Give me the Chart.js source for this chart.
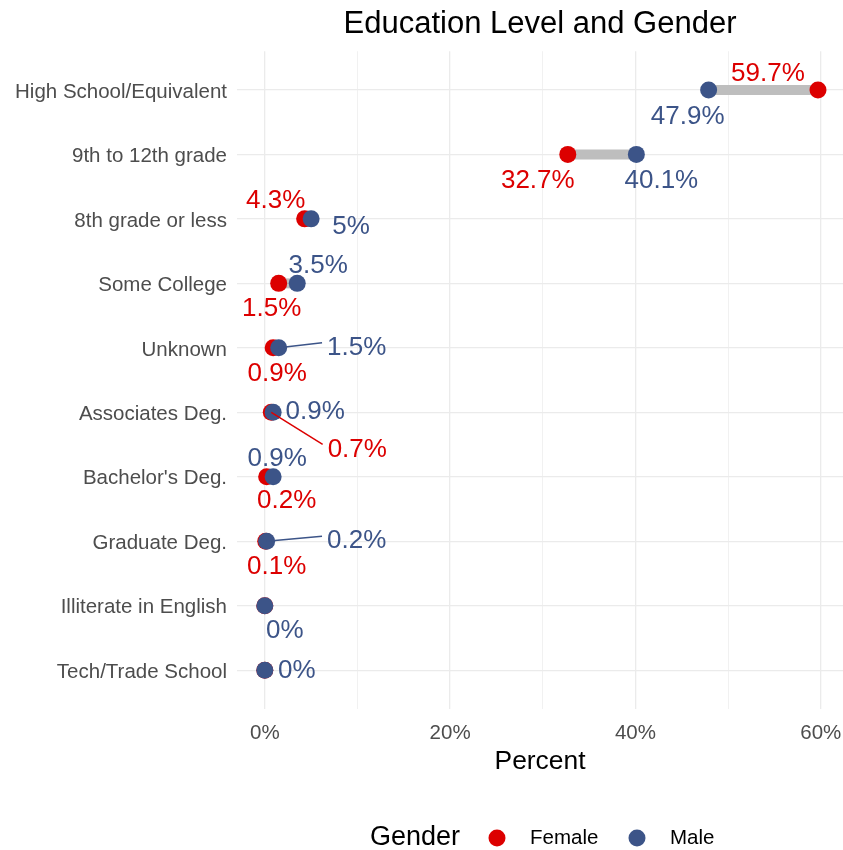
<!DOCTYPE html>
<html>
<head>
<meta charset="utf-8">
<script src="https://cdn.jsdelivr.net/npm/chart.js@4"></script>
<style>
  body { margin: 0; background: #fff; }
  #wrap { width: 843px; height: 850px; }
</style>
</head>
<body>
<div id="wrap"><canvas id="edu" width="843" height="850"></canvas></div>
<script>
// data
const categories = [
  "High School/Equivalent", "9th to 12th grade", "8th grade or less", "Some College",
  "Unknown", "Associates Deg.", "Bachelor's Deg.", "Graduate Deg.",
  "Illiterate in English", "Tech/Trade School"
];
const female = [59.7, 32.7, 4.3, 1.5, 0.9, 0.7, 0.2, 0.1, 0, 0];
const male = [47.9, 40.1, 5, 3.5, 1.5, 0.9, 0.9, 0.2, 0, 0];
const xTicks = [0, 10, 20, 30, 40, 50, 60];

// where the value labels sit relative to their dot (px), null = label dropped
const femaleLabelOffsets = [[-50, -18], [-30, 24], [-29, -20], [-7, 23], [4, 24], [86, 35], [20, 22], [11, 24], null, null];
const maleLabelOffsets = [[-21, 25], [25, 24], [40, 6], [21, -20], [78, -2], [42, -3], [4, -20], [90, -2], [20, 23], [32, -1]];

const RED = "#DC0000";
const BLUE = "#3C5488";
const FONT = "'Liberation Sans', Arial, sans-serif";

const toPoints = (vals) => vals.map((v, i) => ({ x: v, y: i }));

// grey bar between the two dots of each category
const segmentPlugin = {
  id: "segments",
  beforeDatasetsDraw(chart) {
    const { ctx, scales } = chart;
    ctx.save();
    ctx.strokeStyle = "#BEBEBE";
    ctx.lineWidth = 10;
    categories.forEach((c, i) => {
      const y = scales.y.getPixelForValue(i);
      ctx.beginPath();
      ctx.moveTo(scales.x.getPixelForValue(female[i]), y);
      ctx.lineTo(scales.x.getPixelForValue(male[i]), y);
      ctx.stroke();
    });
    ctx.restore();
  }
};

// value labels, with a connector when the label sits far from its dot
const labelPlugin = {
  id: "valueLabels",
  afterDatasetsDraw(chart) {
    const { ctx, scales } = chart;
    ctx.save();
    ctx.font = "26px " + FONT;
    ctx.textAlign = "center";
    ctx.textBaseline = "middle";
    const drawSet = (vals, offsets, color) => {
      vals.forEach((v, i) => {
        const off = offsets[i];
        if (!off) return;
        const px = scales.x.getPixelForValue(v);
        const py = scales.y.getPixelForValue(i);
        const text = v + "%";
        const lx = px + off[0];
        const ly = py + off[1];
        if (Math.abs(off[0]) > 60) {
          const w = ctx.measureText(text).width;
          ctx.strokeStyle = color;
          ctx.lineWidth = 1.5;
          ctx.beginPath();
          ctx.moveTo(px, py);
          ctx.lineTo(lx - w / 2 - 5, ly - 3);
          ctx.stroke();
        }
        ctx.fillStyle = color;
        ctx.fillText(text, lx, ly + 2);
      });
    };
    drawSet(female, femaleLabelOffsets, RED);
    drawSet(male, maleLabelOffsets, BLUE);
    ctx.restore();
  },
  afterDraw(chart) {
    // legend: "Gender  ● Female  ● Male"
    const { ctx } = chart;
    const y = 838;
    ctx.save();
    ctx.textBaseline = "middle";
    ctx.textAlign = "left";
    ctx.fillStyle = "#000";
    ctx.font = "27px " + FONT;
    ctx.fillText("Gender", 370, y);
    ctx.font = "20.5px " + FONT;
    [["Female", RED, 497], ["Male", BLUE, 637]].forEach(([name, color, x]) => {
      ctx.fillStyle = color;
      ctx.beginPath();
      ctx.arc(x, y, 8.5, 0, Math.PI * 2);
      ctx.fill();
      ctx.fillStyle = "#000";
      ctx.fillText(name, x + 33, y);
    });
    ctx.restore();
  }
};

new Chart(document.getElementById("edu"), {
  type: "scatter",
  data: {
    datasets: [
      // male dots sit on top of female ones
      { label: "Female", order: 1, data: toPoints(female), backgroundColor: RED, pointRadius: 8.5, pointHoverRadius: 8.5, borderWidth: 0 },
      { label: "Male", order: 0, data: toPoints(male), backgroundColor: BLUE, pointRadius: 8.5, pointHoverRadius: 8.5, borderWidth: 0 }
    ]
  },
  options: {
    responsive: false,
    animation: false,
    layout: { autoPadding: false, padding: { left: 0, right: 0, top: 0, bottom: 71 } },
    plugins: {
      legend: { display: false },
      tooltip: { enabled: false },
      title: {
        display: true,
        text: "Education Level and Gender",
        fullSize: false,
        color: "#000",
        font: { family: FONT, size: 31, weight: "normal" },
        padding: { top: 6, bottom: 8 }
      }
    },
    scales: {
      x: {
        type: "linear",
        min: -3,
        max: 62.4,
        afterBuildTicks: (s) => { s.ticks = xTicks.map((v) => ({ value: v })); },
        afterFit: (s) => { s.height = 70; s.paddingRight = 0; s.paddingLeft = 0; },
        ticks: {
          callback: (v) => (v % 20 === 0 ? v + "%" : ""),
          color: "#4D4D4D",
          font: { family: FONT, size: 20.5 },
          padding: 12,
          maxRotation: 0,
          autoSkip: false
        },
        grid: {
          color: "#EBEBEB",
          lineWidth: (c) => (c.tick && c.tick.value % 20 === 0 ? 1.3 : 0.7),
          drawTicks: false
        },
        border: { display: false },
        title: {
          display: true,
          text: "Percent",
          color: "#000",
          font: { family: FONT, size: 26.4 },
          padding: { top: 0, bottom: 1 }
        }
      },
      y: {
        type: "linear",
        reverse: true,
        min: -0.6,
        max: 9.6,
        afterBuildTicks: (s) => { s.ticks = categories.map((c, i) => ({ value: i })); },
        afterFit: (s) => { s.width = 237; },
        ticks: {
          callback: (v) => categories[v],
          color: "#4D4D4D",
          font: { family: FONT, size: 20.5 },
          padding: 10,
          labelOffset: 2,
          autoSkip: false
        },
        grid: { color: "#EBEBEB", lineWidth: 1.3, drawTicks: false },
        border: { display: false }
      }
    }
  },
  plugins: [segmentPlugin, labelPlugin]
});
</script>
</body>
</html>
